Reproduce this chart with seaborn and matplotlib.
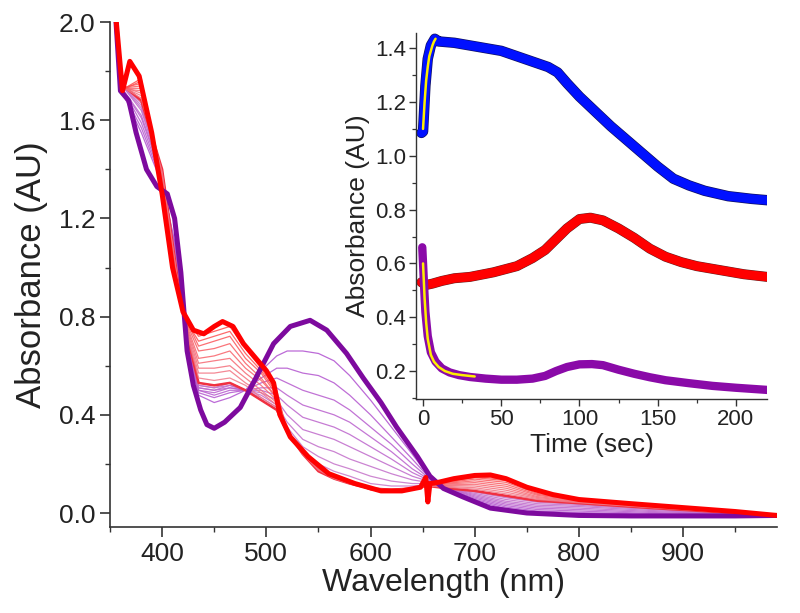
import numpy as np
import matplotlib
matplotlib.use('Agg')
import matplotlib.pyplot as plt
import matplotlib.patheffects as pe
from matplotlib.ticker import MultipleLocator, FormatStrFormatter
import seaborn as sns

sns.set_style('ticks')
plt.rcParams['font.family'] = ['Liberation Sans', 'DejaVu Sans']

# ---- main panel: spectra ----
wl_start = [355, 360, 368, 375, 385, 395, 405, 412, 418, 424, 430, 437, 443, 450, 460,
            475, 490, 507, 523, 542, 558, 577, 593, 610, 625, 645, 657, 670, 689, 715,
            750, 800, 850, 900, 950, 990]
abs_start = [2.05, 1.72, 1.68, 1.55, 1.40, 1.33, 1.30, 1.20, 0.98, 0.66, 0.52, 0.42, 0.36,
             0.345, 0.37, 0.43, 0.55, 0.69, 0.76, 0.785, 0.745, 0.65, 0.55, 0.45, 0.35,
             0.23, 0.15, 0.10, 0.065, 0.02, 0.0, -0.01, -0.012, -0.012, -0.012, -0.01]

wl_end = [355, 362, 369, 378, 390, 400, 410, 420, 430, 440, 450, 458, 468, 478, 490, 500,
          507, 513, 523, 540, 560, 585, 610, 630, 648, 653, 655, 657, 665, 680, 700, 715,
          730, 750, 775, 800, 850, 900, 950, 990]
abs_end = [2.05, 1.72, 1.84, 1.78, 1.55, 1.30, 1.00, 0.82, 0.745, 0.73, 0.76, 0.78, 0.76,
           0.69, 0.63, 0.58, 0.53, 0.40, 0.31, 0.23, 0.16, 0.12, 0.09, 0.09, 0.105, 0.145,
           0.045, 0.12, 0.125, 0.14, 0.153, 0.155, 0.14, 0.105, 0.075, 0.055, 0.038, 0.022,
           0.006, -0.01]

# thin traces share one wavelength grid
wl_thin = [360, 380, 400, 415, 425, 435, 450, 465, 480, 495, 510, 520, 535, 550, 565, 580,
           600, 620, 640, 655, 675, 700, 730, 760, 800, 870, 990]

# first phase: purple band at 540 nm bleaches
decay_1 = [1.73, 1.55, 1.34, 1.05, 0.66, 0.48, 0.45, 0.47, 0.50, 0.58, 0.64, 0.66, 0.66, 0.65, 0.62, 0.56, 0.46, 0.35, 0.24, 0.155, 0.095, 0.05, 0.018, 0.003, -0.003, -0.008, -0.01]
decay_2 = [1.73, 1.57, 1.35, 1.03, 0.67, 0.49, 0.47, 0.49, 0.50, 0.55, 0.59, 0.59, 0.57, 0.56, 0.53, 0.48, 0.40, 0.31, 0.22, 0.15, 0.097, 0.055, 0.024, 0.008, 0.002, -0.005, -0.01]
decay_3 = [1.74, 1.59, 1.36, 1.01, 0.67, 0.50, 0.48, 0.50, 0.50, 0.53, 0.55, 0.53, 0.50, 0.48, 0.46, 0.42, 0.35, 0.28, 0.20, 0.145, 0.098, 0.06, 0.03, 0.014, 0.008, -0.002, -0.01]
decay_4 = [1.74, 1.61, 1.37, 1.00, 0.68, 0.50, 0.49, 0.51, 0.50, 0.51, 0.51, 0.48, 0.44, 0.42, 0.40, 0.37, 0.31, 0.25, 0.18, 0.14, 0.10, 0.065, 0.036, 0.02, 0.014, 0.002, -0.01]
decay_5 = [1.74, 1.62, 1.38, 0.99, 0.68, 0.51, 0.50, 0.51, 0.50, 0.50, 0.48, 0.44, 0.39, 0.37, 0.35, 0.32, 0.27, 0.22, 0.165, 0.135, 0.10, 0.07, 0.042, 0.026, 0.02, 0.006, -0.01]
decay_6 = [1.75, 1.64, 1.38, 0.98, 0.69, 0.51, 0.50, 0.52, 0.50, 0.49, 0.46, 0.40, 0.34, 0.32, 0.30, 0.27, 0.23, 0.19, 0.15, 0.13, 0.10, 0.075, 0.048, 0.032, 0.026, 0.01, -0.01]
decay_7 = [1.75, 1.65, 1.39, 0.97, 0.69, 0.52, 0.51, 0.52, 0.50, 0.48, 0.44, 0.37, 0.30, 0.27, 0.25, 0.22, 0.19, 0.16, 0.135, 0.125, 0.10, 0.08, 0.055, 0.038, 0.031, 0.014, -0.01]
decay_8 = [1.75, 1.66, 1.39, 0.96, 0.70, 0.52, 0.51, 0.53, 0.50, 0.47, 0.43, 0.35, 0.27, 0.23, 0.20, 0.18, 0.15, 0.13, 0.12, 0.12, 0.10, 0.085, 0.062, 0.044, 0.035, 0.017, -0.01]
decay_9 = [1.75, 1.67, 1.40, 0.95, 0.70, 0.53, 0.52, 0.53, 0.50, 0.46, 0.42, 0.34, 0.25, 0.20, 0.17, 0.15, 0.12, 0.11, 0.11, 0.115, 0.10, 0.088, 0.066, 0.047, 0.038, 0.019, -0.01]

# intermediate spectrum between the two phases
middle = [1.75, 1.68, 1.40, 0.95, 0.70, 0.53, 0.52, 0.53, 0.50, 0.46, 0.42, 0.33, 0.24, 0.17, 0.14, 0.12, 0.10, 0.095, 0.10, 0.11, 0.10, 0.09, 0.07, 0.05, 0.04, 0.02, -0.01]

# second phase: 460 and 700 nm bands grow
grow_1 = [1.74, 1.69, 1.39, 0.94, 0.71, 0.55, 0.54, 0.55, 0.52, 0.47, 0.43, 0.33, 0.24, 0.175, 0.14, 0.12, 0.10, 0.094, 0.10, 0.11, 0.105, 0.097, 0.078, 0.055, 0.042, 0.022, -0.01]
grow_2 = [1.74, 1.70, 1.38, 0.94, 0.72, 0.57, 0.57, 0.58, 0.53, 0.49, 0.44, 0.33, 0.245, 0.178, 0.143, 0.121, 0.099, 0.093, 0.099, 0.11, 0.108, 0.103, 0.085, 0.059, 0.044, 0.023, -0.01]
grow_3 = [1.74, 1.71, 1.37, 0.93, 0.73, 0.59, 0.59, 0.60, 0.55, 0.50, 0.45, 0.33, 0.245, 0.18, 0.144, 0.122, 0.098, 0.092, 0.098, 0.11, 0.112, 0.11, 0.093, 0.063, 0.046, 0.024, -0.01]
grow_4 = [1.73, 1.72, 1.36, 0.93, 0.74, 0.61, 0.62, 0.63, 0.57, 0.52, 0.46, 0.33, 0.247, 0.182, 0.145, 0.122, 0.097, 0.091, 0.097, 0.11, 0.115, 0.117, 0.101, 0.067, 0.048, 0.025, -0.01]
grow_5 = [1.73, 1.73, 1.35, 0.92, 0.75, 0.63, 0.64, 0.66, 0.59, 0.54, 0.47, 0.33, 0.248, 0.184, 0.146, 0.123, 0.097, 0.09, 0.097, 0.11, 0.119, 0.124, 0.109, 0.072, 0.05, 0.026, -0.01]
grow_6 = [1.73, 1.74, 1.34, 0.92, 0.76, 0.66, 0.67, 0.69, 0.61, 0.55, 0.47, 0.33, 0.248, 0.186, 0.147, 0.123, 0.096, 0.09, 0.096, 0.11, 0.122, 0.131, 0.117, 0.076, 0.051, 0.027, -0.01]
grow_7 = [1.73, 1.75, 1.33, 0.91, 0.77, 0.68, 0.70, 0.72, 0.63, 0.57, 0.48, 0.33, 0.249, 0.187, 0.148, 0.124, 0.096, 0.089, 0.096, 0.11, 0.125, 0.138, 0.125, 0.08, 0.052, 0.028, -0.01]
grow_8 = [1.72, 1.76, 1.32, 0.91, 0.77, 0.70, 0.72, 0.74, 0.65, 0.58, 0.49, 0.33, 0.25, 0.188, 0.149, 0.124, 0.095, 0.089, 0.095, 0.11, 0.128, 0.144, 0.132, 0.085, 0.054, 0.029, -0.01]
grow_9 = [1.72, 1.77, 1.31, 0.90, 0.78, 0.72, 0.74, 0.76, 0.67, 0.59, 0.50, 0.33, 0.25, 0.19, 0.15, 0.125, 0.095, 0.088, 0.095, 0.11, 0.13, 0.149, 0.137, 0.088, 0.055, 0.03, -0.01]

# ---- inset: kinetics traces ----
t_blue = [-1, 0, 1.5, 3, 5, 7.5, 10, 20, 35, 50, 65, 80, 86, 92, 100, 110, 120, 130, 140,
          150, 160, 170, 180, 195, 210, 220]
a_blue = [1.085, 1.09, 1.26, 1.36, 1.41, 1.435, 1.425, 1.42, 1.405, 1.39, 1.36, 1.33, 1.31,
          1.27, 1.22, 1.165, 1.11, 1.06, 1.01, 0.96, 0.915, 0.89, 0.87, 0.85, 0.84, 0.835]

t_red = [-1, 2, 6, 12, 20, 30, 45, 60, 70, 78, 85, 92, 100, 107, 115, 125, 135, 145, 155,
         165, 175, 190, 205, 220]
a_red = [0.53, 0.52, 0.525, 0.535, 0.545, 0.55, 0.567, 0.59, 0.62, 0.65, 0.69, 0.73, 0.765,
         0.77, 0.76, 0.73, 0.695, 0.655, 0.625, 0.605, 0.59, 0.575, 0.56, 0.55]

t_purple = [-0.5, 0, 0.8, 1.5, 3, 5, 8, 12, 17, 23, 30, 40, 50, 60, 70, 78, 85, 92, 100,
            108, 115, 125, 135, 145, 155, 170, 185, 200, 220]
a_purple = [0.66, 0.60, 0.50, 0.42, 0.33, 0.27, 0.235, 0.21, 0.195, 0.185, 0.178, 0.172,
            0.168, 0.168, 0.172, 0.182, 0.20, 0.215, 0.225, 0.226, 0.222, 0.205, 0.19, 0.177,
            0.166, 0.155, 0.145, 0.138, 0.13]

# yellow fits
t_fit_rise = [0, 1, 2, 3, 4, 5, 6, 7, 8]
a_fit_rise = [1.10, 1.20, 1.28, 1.33, 1.37, 1.39, 1.41, 1.425, 1.435]
t_fit_decay = [0, 1, 2, 3, 5, 7, 10, 14, 19, 25, 33]
a_fit_decay = [0.60, 0.47, 0.38, 0.32, 0.26, 0.235, 0.215, 0.20, 0.19, 0.185, 0.18]

PURPLE = '#7d0a9e'
RED = '#ff0000'
AXC = '#333333'

fig = plt.figure(figsize=(8, 6.13), dpi=100)
ax = fig.add_axes([0.1375, 0.1403, 0.8337, 0.8237])

decays = [decay_1, decay_2, decay_3, decay_4, decay_5, decay_6, decay_7, decay_8, decay_9]
grows = [grow_1, grow_2, grow_3, grow_4, grow_5, grow_6, grow_7, grow_8, grow_9]
dcols = sns.blend_palette(['#b050d0', '#c878c8'], len(decays))
gcols = sns.blend_palette(['#f07a8a', '#ff4a4a'], len(grows))
for y, c in zip(decays, dcols):
    sns.lineplot(x=wl_thin, y=y, ax=ax, color=c, lw=0.9, alpha=0.85, sort=False)
sns.lineplot(x=wl_thin, y=middle, ax=ax, color='#f03040', lw=1.8, sort=False)
for y, c in zip(grows, gcols):
    sns.lineplot(x=wl_thin, y=y, ax=ax, color=c, lw=0.9, alpha=0.85, sort=False)

sns.lineplot(x=wl_start, y=abs_start, ax=ax, color=PURPLE, lw=3.6, sort=False)
sns.lineplot(x=wl_end, y=abs_end, ax=ax, color=RED, lw=3.6, sort=False)

ax.set_xlim(350, 990)
ax.set_ylim(-0.057, 2.0)
ax.xaxis.set_major_locator(MultipleLocator(100))
ax.xaxis.set_minor_locator(MultipleLocator(50))
ax.yaxis.set_major_locator(MultipleLocator(0.4))
ax.yaxis.set_minor_locator(MultipleLocator(0.2))
ax.yaxis.set_major_formatter(FormatStrFormatter('%.1f'))
ax.set_xticks([400, 500, 600, 700, 800, 900])
ax.set_xlabel('Wavelength (nm)', fontsize=23, color='#222222', labelpad=2)
ax.set_ylabel('Absorbance (AU)', fontsize=25, color='#222222', labelpad=8)
ax.tick_params(which='major', labelsize=19, length=7, width=1.2, color=AXC,
               labelcolor='#222222', direction='out')
ax.tick_params(which='minor', length=3.5, width=1.0, color=AXC, direction='out')
sns.despine(ax=ax)
for s in ['left', 'bottom']:
    ax.spines[s].set_color(AXC)
    ax.spines[s].set_linewidth(1.2)

# inset
ins = fig.add_axes([0.52, 0.349, 0.439, 0.597])
ins.patch.set_alpha(0)
sns.lineplot(x=t_blue, y=a_blue, ax=ins, color='#0010ff', lw=6.5, sort=False,
             path_effects=[pe.Stroke(linewidth=7.5, foreground='#101060'), pe.Normal()])
sns.lineplot(x=t_red, y=a_red, ax=ins, color=RED, lw=6.5, sort=False,
             path_effects=[pe.Stroke(linewidth=7.2, foreground='#602020'), pe.Normal()])
sns.lineplot(x=t_purple, y=a_purple, ax=ins, color='#8a0aa8', lw=6, sort=False)
sns.lineplot(x=t_fit_rise, y=a_fit_rise, ax=ins, color='#ffee00', lw=1.8, sort=False)
sns.lineplot(x=t_fit_decay, y=a_fit_decay, ax=ins, color='#ffee00', lw=1.8, sort=False)

ins.set_xlim(-4.5, 220)
ins.set_ylim(0.096, 1.456)
ins.xaxis.set_major_locator(MultipleLocator(50))
ins.xaxis.set_minor_locator(MultipleLocator(25))
ins.yaxis.set_major_locator(MultipleLocator(0.2))
ins.yaxis.set_minor_locator(MultipleLocator(0.1))
ins.yaxis.set_major_formatter(FormatStrFormatter('%.1f'))
ins.set_yticks([0.2, 0.4, 0.6, 0.8, 1.0, 1.2, 1.4])
ins.set_xlabel('Time (sec)', fontsize=19, color='#222222', labelpad=2)
ins.set_ylabel('Absorbance (AU)', fontsize=19, color='#222222', labelpad=4)
ins.tick_params(which='major', labelsize=16, length=5, width=1.0, color=AXC,
                labelcolor='#222222', direction='out', pad=2)
ins.tick_params(which='minor', length=3, width=0.9, color=AXC, direction='out')
sns.despine(ax=ins)
for s in ['left', 'bottom']:
    ins.spines[s].set_color(AXC)
    ins.spines[s].set_linewidth(1.0)

fig.savefig('out.png', dpi=100)
